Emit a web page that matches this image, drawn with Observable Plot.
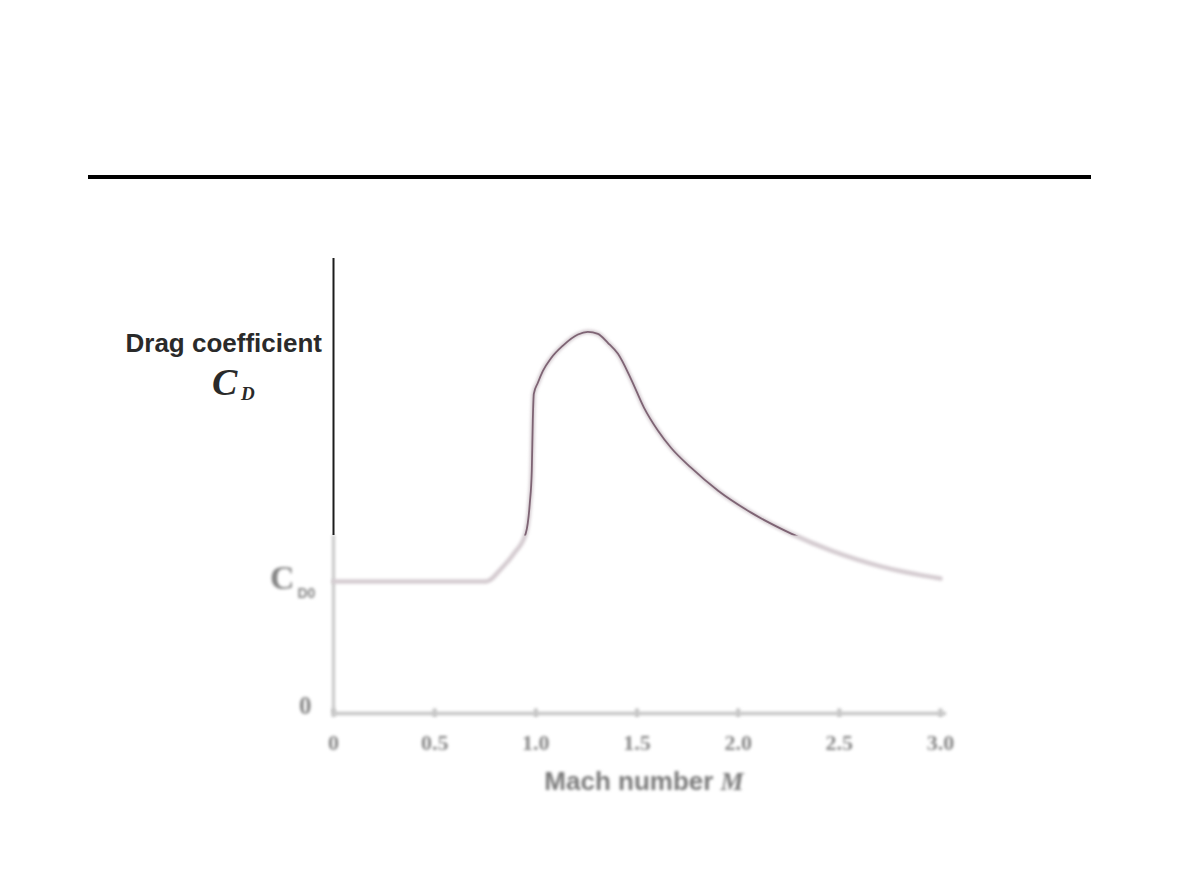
<!DOCTYPE html>
<html>
<head>
<meta charset="utf-8">
<script src="https://cdn.jsdelivr.net/npm/d3@7"></script>
<script src="https://cdn.jsdelivr.net/npm/@observablehq/plot@0.6"></script>
<style>
  body { margin: 0; background: #fff; }
  #wrap { position: relative; width: 1180px; height: 885px; overflow: hidden; background: #fff; }
  #wrap svg { position: absolute; left: 0; top: 0; }
  #rule { position: absolute; left: 88px; top: 175px; width: 1003px; height: 4px; background: #000; }
  #ylab { position: absolute; left: 0; top: 328px; width: 322px; text-align: right; line-height: 1;
          font: bold 26px "Liberation Sans", Arial, sans-serif; color: #2a2a2a; white-space: nowrap; }
  #cdC { position: absolute; left: 212px; top: 363px; font: italic bold 38px "Liberation Serif", serif; color: #2a2a2a; line-height: 1; }
  #cdD { position: absolute; left: 241px; top: 384px; font: italic bold 19px "Liberation Serif", serif; color: #2a2a2a; line-height: 1; }
  #xlab { position: absolute; left: 504px; top: 766px; width: 280px; text-align: center; line-height: 1;
          font: bold 26px "Liberation Sans", Arial, sans-serif; color: #7a7a7a; filter: blur(1.5px); white-space: nowrap; }
  #xlab i { font-family: "Liberation Serif", serif; font-weight: bold; }
</style>
</head>
<body>
<div id="wrap">
  <div id="rule"></div>
  <div id="ylab">Drag coefficient</div>
  <div id="cdC">C</div>
  <div id="cdD">D</div>
  <div id="xlab">Mach number <i>M</i></div>
</div>
<script>
// Mach number samples
const mach = [0, 0.48, 0.752, 0.785, 0.812, 0.891, 0.95, 0.97, 0.98, 0.985, 0.99, 1.01, 1.035, 1.074, 1.134, 1.208, 1.257, 1.307, 1.356, 1.406, 1.47, 1.535, 1.604, 1.668, 1.767, 1.901, 2.064, 2.262, 2.46, 2.708, 3.0];
// Drag coefficient in units of C_D0
const dragCoef = [1.0, 1.0, 1.0, 1.025, 1.07, 1.212, 1.364, 1.591, 1.841, 2.22, 2.424, 2.508, 2.598, 2.692, 2.79, 2.874, 2.894, 2.879, 2.811, 2.727, 2.538, 2.318, 2.144, 2.015, 1.864, 1.689, 1.523, 1.364, 1.235, 1.114, 1.023];

const xTicks = [0, 0.5, 1.0, 1.5, 2.0, 2.5, 3.0];
const xTickLabels = ["0", "0.5", "1.0", "1.5", "2.0", "2.5", "3.0"];
const yZeroTick = [0];
const yZeroLabel = ["0"];
const cd0Tick = [1.0];
const cd0Label = ["C"];
const cd0Sub = ["D0"];

const yTop = 3.45;       // top of the vertical axis
const sharpLimit = 1.35; // level below which the picture is faded/blurred

const data = mach.map((m, i) => ({ m, cd: dragCoef[i] }));
const xLabel = new Map(xTicks.map((t, i) => [t, xTickLabels[i]]));

const FADE_STROKE = "#c6c6c6";
const FADE_TEXT = "#858585";
const FADE_CURVE = "#d4cbd0";
const SHARP_CURVE = "#7e6474";

const chart = Plot.plot({
  width: 1180,
  height: 885,
  marginLeft: 333,
  marginRight: 240,
  marginTop: 258,
  marginBottom: 172,
  x: { domain: [0, 3], axis: null },
  y: { domain: [0, yTop], axis: null },
  style: { background: "transparent", overflow: "visible" },
  marks: [
    // faded lower part of the y axis
    Plot.ruleX([0], { y1: 0, y2: sharpLimit, stroke: FADE_STROKE, strokeWidth: 3 }),
    // sharp upper part of the y axis
    Plot.ruleX([0], { y1: sharpLimit, y2: yTop, stroke: "#1c1c1c", strokeWidth: 2 }),
    // x axis line
    Plot.ruleY([0], { x1: 0, x2: 3.03, stroke: FADE_STROKE, strokeWidth: 3.5 }),
    // x tick marks
    Plot.ruleX(xTicks, { x: d => d, y1: -0.03, y2: 0.035, stroke: FADE_STROKE, strokeWidth: 4 }),
    // x tick labels
    Plot.text(xTicks, {
      x: d => d, y: 0, text: d => xLabel.get(d), dy: 29,
      fontSize: 22, fontWeight: "bold", fontFamily: "Liberation Serif, serif", fill: FADE_TEXT
    }),
    // y tick labels
    Plot.text(yZeroTick, {
      x: 0, y: d => d, text: (d, i) => yZeroLabel[i], dx: -22, dy: -8, textAnchor: "end",
      fontSize: 25, fontWeight: "bold", fontFamily: "Liberation Serif, serif", fill: FADE_TEXT
    }),
    Plot.text(cd0Tick, {
      x: 0, y: d => d, text: (d, i) => cd0Label[i], dx: -39, dy: -4, textAnchor: "end",
      fontSize: 34, fontWeight: "bold", fontFamily: "Liberation Serif, serif", fill: FADE_TEXT
    }),
    Plot.text(cd0Tick, {
      x: 0, y: d => d, text: (d, i) => cd0Sub[i], dx: -36, dy: 12, textAnchor: "start",
      fontSize: 14, fontWeight: "bold", fontFamily: "Liberation Sans, sans-serif", fill: FADE_TEXT
    }),
    // faded full curve
    Plot.line(data, { x: "m", y: "cd", curve: "monotone-x", stroke: FADE_CURVE, strokeWidth: 4.5 }),
    // sharp curve (clipped to the upper part afterwards)
    Plot.line(data, { x: "m", y: "cd", curve: "monotone-x", stroke: SHARP_CURVE, strokeWidth: 1.8 })
  ]
});

document.getElementById("wrap").appendChild(chart);

const svg = d3.select(chart);
// blur faded parts
svg.selectAll("g").filter(function () {
  const s = this.getAttribute("stroke"), f = this.getAttribute("fill");
  return s === FADE_STROKE || s === FADE_CURVE || f === FADE_TEXT;
}).style("filter", "blur(1.4px)");

// clip the sharp curve to the area above the fade limit
const ySplit = chart.scale("y").apply(sharpLimit);
svg.append("defs").append("clipPath").attr("id", "upperClip")
  .append("rect").attr("x", 0).attr("y", 0).attr("width", 1180).attr("height", ySplit);
svg.selectAll("g").filter(function () { return this.getAttribute("stroke") === SHARP_CURVE; })
  .attr("clip-path", "url(#upperClip)");
</script>
</body>
</html>
